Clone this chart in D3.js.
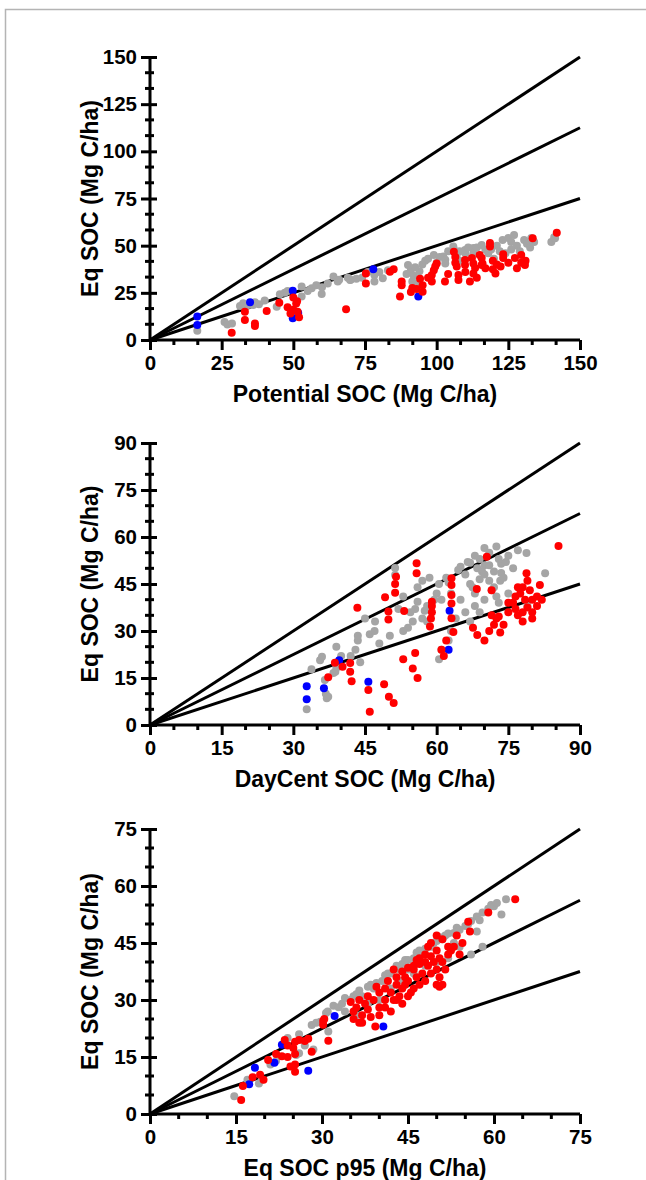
<!DOCTYPE html>
<html>
<head>
<meta charset="utf-8">
<script src="https://cdn.jsdelivr.net/npm/d3@7"></script>
<style>
  body { margin: 0; background: #fff; }
  svg { display: block; }
  text { font-family: "Liberation Sans", Arial, sans-serif; font-weight: bold; fill: #000; }
</style>
</head>
<body>
<div id="chart"></div>
<script>
// ---- data ----
// panel 1: Potential SOC vs Eq SOC
var p1Gray = [[16.5,4.9],[26,9.5],[27,8.2],[28.6,8.8],[31.4,18],[32.5,19.5],[33.5,17.5],[35,19],[36.6,20],[36,18.5],[38,19],[40,21],
  [44.2,17.6],[45.3,24.2],[47,25],[48,26],[52.9,28.3],[52.9,23],[56.4,27.4],[59.9,24.4],[55,26],[60,28],[58,29],[62,30],[64,33.6],[65.5,31],[66,32],[69,33],[70,32],
  [69.8,31.8],[78.3,34.4],[78.3,31],[81.2,32.7],[74,33],[76,36],[72,32.5],[80,36],[83,37],
  [90,39.7],[91,37],[92,34],[91.5,31],[93,29.5],[94,36.5],[92.5,38.5],[89.5,35],[95,40],[96,42],[97,43],[99,45],[100,41],[101,44],[104,47],[106,48],
  [102.3,44.2],[103,42.5],[103,40.6],[105.8,49.5],[107,45],[108,42],[108,47],[110,46],[109.9,47.7],[111,49],[112.8,48.8],[112.8,46],[114,49],[115.7,50.3],[117,48],[118,46],[119,48],[120,43],[121,50],[122,47],
  [123,53],[125,54],[126,52],[127,55.6],[128,50],[129,47],[130.5,53],[131.5,51],[132.6,49],[133,54],[134,52],[124,46],[126,48],[141.3,53.9],[140,52],[141,54.5]];
var p1Red = [[28.5,3.9],[33.1,15],[33.1,10.6],[36.6,8.8],[36.6,7.4],[40.7,15.4],[45.1,19.8],
  [48,17.3],[50,22.5],[51,19.3],[50,16],[51.5,15],[52,12],[49,14],[51.3,20.5],
  [68.4,16.3],[75.3,35.3],[75.3,30],[83.7,36.2],[85,37.5],[87.8,29],[87.8,31],[87.2,23],[91,25.4],[91.5,27.6],[93,27],[94.2,32.4],[95.1,29],[95.1,25.6],
  [97,33],[98.3,34.4],[99,37],[99.5,39],[100,40.6],[98.3,31],[102.9,31],[104,35],
  [106,46.8],[106.5,44],[106.5,41],[107,38.9],[107.6,34.4],[107.6,31.8],
  [109.9,42.4],[109.9,39.7],[110,36],[112.3,43.5],[112.8,40.5],[113.4,38.1],[111.6,31],[112.8,35.3],[114,33],
  [115,45],[115.7,43.5],[116,40.5],[115.7,39.7],[117,38],[118.6,51.4],[118.6,49.5],
  [119.6,42],[119.6,37.5],[120.5,35.3],[121,40],[122.3,39],[123.2,45.5],[123.2,43.5],[125,41],
  [127.3,43.5],[128,38],[129.5,45],[129.5,41],[130.8,39.7],[131,42],[133.5,53.9],[141.9,56.9]];
var p1Blue = [[16.5,12.4],[16.5,8],[34.9,20],[49.8,26.1],[49.8,11.5],[51.7,14.3],[77.9,37.5],[93.6,23]];

// panel 2: DayCent SOC vs Eq SOC
var p2Gray = [[32.8,5],[33.8,17.8],[35.6,20.7],[36,21.8],[36.6,14.4],[36.8,10],[37,8.5],[37.3,9],[38.4,16.6],[39,18.2],[38.8,17],
  [39,25],[40,22],[42,22],[43,24],[43.5,27],[43.5,28.5],[44,20],[47.1,33],[45,34],[46,29],[47,30],[50.2,28.5],[48,26],
  [51.3,47.9],[51.3,50.1],[52,37],[53,41],[54,31],[55,33],[55.5,37],[56,39.3],[54.5,36],[53,30],[56,44],[57,46],[58.5,47],
  [58,38],[57.5,36.5],[57,34],[60,42],[59.5,40],[58,33],
  [62,47],[62.5,45.5],[64.5,49.5],[65,50.5],[61,40],[60.5,45],[63,42],[64,34],[65,40],[66,36],[67,33],[68,38],[69,36],[70,40],
  [60.5,21],[61,24],[62.5,27],[63,30],
  [66,48],[66.5,52],[67,45],[67.5,44],[68,42],[68.5,50],[69,46.5],[69,53],[69.5,49],[70,51],[70,48],[71,51],[71,46],[71.5,43],[72,44],[72,49],
  [72.5,41],[73,39],[73.3,46],[73.5,48.5],[73.5,51.5],[74,47],[74.5,52],[75,54],[76,50],
  [73,53],[67,51.8],[68,54],[70,56.5],[72.5,57],[71,55],[77,55.8],[78.8,54.9],[82.7,48.4],[79,38],[75,42]];
var p2Red = [[37.3,15.2],[38.7,19.9],[40.3,18.6],[41.9,19.8],[41.9,17],[42.2,14],[45.7,11.2],[46,4.2],
  [43.4,37.4],[49.9,33.7],[49.9,36.2],[53.2,36.4],[49.2,40.8],[51.3,42.2],[51.3,45],[51.5,47.3],[55.8,48.4],[55.8,51.6],
  [49,13],[50,9],[51,7],[53,21],[55,18],[55.5,23],[56,15],
  [58.6,31.4],[58.8,34],[59,36],[59,38],[59,39.3],[61,24],[61.5,22],[62,27],
  [63.1,44.7],[63.1,46.8],[63.1,38.8],[63.1,41.5],[63.1,34.1],[63.5,29.7],
  [67.6,31],[68.5,28.7],[70,27],[71,30],[72,32],[73.3,29.5],[72.5,34],[71.5,35],[73,34.6],[74,32],[75,36],
  [68.4,43.4],[71.5,43],[70.5,53.7],
  [75,39],[76,39],[76.5,37],[76.5,41],[77,35],[77,44],[77.5,42],[78,44],[78,33],[78.5,40],[79,37.5],[79,46],[80,36],[80,34],[80,40],
  [81,41],[81,38],[82,40],[81.6,44.7],[78,36],[79.5,43],
  [78.8,48.4],[85.5,57.1]];
var p2Blue = [[32.8,12.4],[32.8,8.2],[36.4,11.7],[39.6,20.7],[45.7,13.8],[62.7,36.5],[62.5,24]];

// panel 3: Eq SOC p95 vs Eq SOC
var p3Gray = [[14.7,4.7],[17,9],[19,8],[19.5,9],[21,13],[22,14],[23.5,19],[24,20],[26,21],[26,16],[27,18],[28.2,23.4],[29,24],[29.7,24.3],[30.7,26.6],[31.1,21.7],
  [31,27],[32,28.5],[32.9,28.1],[28.5,17],[25.5,15.5],[33.5,29],[34,30.5],[34,27],[35,30],[35.5,31],[36,31.5],[36,26],[36.5,32.5],[37,31],
  [38,33.5],[38.5,34],[39,33],[39.5,34.5],[40.5,35],[41,36.5],[41.5,37],[42,37],[43,39],[43.5,38],[44,39.5],[44.5,40.5],
  [45,40.5],[46,41],[46.5,42.5],[47,43],[47.5,42],[48,43.5],[49,44],[49.5,45],[50,45.5],[50.5,46.5],[51,46],[51.5,47],[52,47.5],[53,47.6],
  [53.5,49],[54,48.5],[55,49.5],[55.5,50],[56,50.8],[57,52],[57.5,51],[58,53],[59,54],[59.5,55],[60,54.7],[60.5,55.5],[61.3,52.5],[62.1,56.5],
  [40,30],[44,35],[45,38],[46,37],[47,40],[50,40],[52,41],[53,45],[56,42],[57,48],[58,44],[54,44],[48,39],[42,33],[38,29]];
var p3Red = [[15.9,3.7],[16.2,7.4],[17.9,9.7],[19.2,10.3],[19.8,9],[20.6,14.2],[22,15.8],[23,15.2],[24,15],[24.5,12.5],[25.3,15.8],
  [25.3,13],[23.5,19.5],[24,18],[25,17.4],[25.3,19],[26,19.5],[27,19.2],[27.6,19.8],[25.3,11.1],[28.2,16.4],
  [30.2,24.5],[30.4,25],[30.2,23.5],[31.1,19.3],
  [35,29.5],[35.5,27],[36,28],[37,26],[37.5,29],[38,27.5],[38.5,25.5],[39.3,23],[36.5,24],[35.5,25],[37,24],[36.5,30],
  [38,31],[39,30],[39.5,33.5],[40,32],[40,28],[40,26],[41,30],[41,33],[41,28],[41.5,35],[42,32],[42.5,30],[42.5,38],[43,34],[43,36],[43,30],
  [43.5,31],[44,33],[44,37.5],[44,29],[44.5,36],[44.5,34],[45,35],[45,38.5],[45,31],[45.5,32],[46,38],[46,39],[46,33],[46.5,36],[46.5,40.5],
  [47,41],[47,39.5],[47,34],[47.5,37],[48,42],[48,40],[48,35],[48.5,39],[48.5,44],[49,45],[49,41.5],[49,37],[49.5,40],[50,43],[50,38],[50,34],[50,47],
  [50.5,41],[50.5,36],[50.5,33.5],[51,46],[51,40],[51,34],[51.5,38],[52,44],[52,42],[52.5,43],[53,44],[54,42],[42,27],
  [53.5,47],[54.5,45],[55.5,50.6],[55.8,48],[59,53],[63.7,56.5]];
var p3Blue = [[17.3,7.8],[18.3,12.2],[21.7,13.5],[23,18.2],[27.6,11.4],[32.2,25.8],[40.7,23]];

var ratios = [1, 0.75, 0.5];

var panels = [
  { top: 57, bottom: 340, max: 150, major: 25, minor: 25 / 3, xTitle: "Potential SOC (Mg C/ha)", gray: p1Gray, red: p1Red, blue: p1Blue },
  { top: 443, bottom: 725, max: 90, major: 15, minor: 5, xTitle: "DayCent SOC (Mg C/ha)", gray: p2Gray, red: p2Red, blue: p2Blue },
  { top: 829, bottom: 1114, max: 75, major: 15, minor: 5, xTitle: "Eq SOC p95 (Mg C/ha)", gray: p3Gray, red: p3Red, blue: p3Blue }
];

var svgWidth = 646, svgHeight = 1180;
var left = 150, right = 580;

var svg = d3.select("#chart").append("svg")
  .attr("width", svgWidth)
  .attr("height", svgHeight);

// outer frame
svg.append("rect")
  .attr("x", 5.5).attr("y", 9.5)
  .attr("width", 700).attr("height", 1300)
  .attr("fill", "none")
  .attr("stroke", "#b4b4b4")
  .attr("stroke-width", 1.5);

function drawPanel(p) {
  var x = d3.scaleLinear().domain([0, p.max]).range([left, right]);
  var y = d3.scaleLinear().domain([0, p.max]).range([p.bottom, p.top]);
  var g = svg.append("g");

  // reference lines 1:1, 0.75, 0.5
  g.selectAll("line.ref")
    .data(ratios)
    .enter()
    .append("line")
    .attr("x1", x(0)).attr("y1", y(0))
    .attr("x2", x(p.max))
    .attr("y2", d => y(p.max * d))
    .attr("stroke", "#000")
    .attr("stroke-width", 3);

  // points: gray, blue, red on top
  [[p.gray, "#a5a5a5"], [p.blue, "#0000ff"], [p.red, "#ff0000"]].forEach(function (s) {
    g.append("g").selectAll("circle")
      .data(s[0])
      .enter()
      .append("circle")
      .attr("cx", d => x(d[0]))
      .attr("cy", d => y(d[1]))
      .attr("r", 4)
      .attr("fill", s[1]);
  });

  var majors = d3.range(0, p.max + 0.01, p.major);
  var minors = d3.range(0, p.max + 0.01, p.minor).filter(v => majors.every(m => Math.abs(m - v) > 0.01));

  // x axis
  var xAxis = d3.axisBottom(x).tickValues(majors).tickSize(10).tickPadding(5);
  var xg = g.append("g").attr("transform", `translate(0,${p.bottom})`).call(xAxis);
  xg.select(".domain").attr("d", `M${left},0H${right}`).attr("stroke-width", 3);
  xg.selectAll(".tick line").attr("stroke-width", 3);
  xg.selectAll(".tick text").style("font-size", "20.5px").style("font-family", "Liberation Sans, Arial").style("font-weight", "bold");
  xg.selectAll("line.minor")
    .data(minors).enter().append("line")
    .attr("x1", d => x(d)).attr("x2", d => x(d))
    .attr("y1", 0).attr("y2", 5)
    .attr("stroke", "#000").attr("stroke-width", 3);

  // y axis
  var yAxis = d3.axisLeft(y).tickValues(majors).tickSize(9).tickPadding(4);
  var yg = g.append("g").attr("transform", `translate(${left},0)`).call(yAxis);
  yg.select(".domain").attr("d", `M0,${p.bottom + 1.5}V${p.top}`).attr("stroke-width", 3);
  yg.selectAll(".tick line").attr("x2", -9).attr("x1", 7).attr("stroke-width", 3);
  yg.selectAll(".tick text").style("font-size", "20.5px").style("font-family", "Liberation Sans, Arial").style("font-weight", "bold");
  yg.selectAll("line.minor")
    .data(minors).enter().append("line")
    .attr("y1", d => y(d)).attr("y2", d => y(d))
    .attr("x1", -5).attr("x2", 4)
    .attr("stroke", "#000").attr("stroke-width", 3);

  // titles
  g.append("text")
    .attr("x", (left + right) / 2)
    .attr("y", p.bottom + 62)
    .attr("text-anchor", "middle")
    .style("font-size", "23px")
    .text(p.xTitle);

  g.append("text")
    .attr("transform", `translate(98,${(p.top + p.bottom) / 2}) rotate(-90)`)
    .attr("text-anchor", "middle")
    .style("font-size", "23px")
    .text("Eq SOC (Mg C/ha)");
}

panels.forEach(drawPanel);
</script>
</body>
</html>
